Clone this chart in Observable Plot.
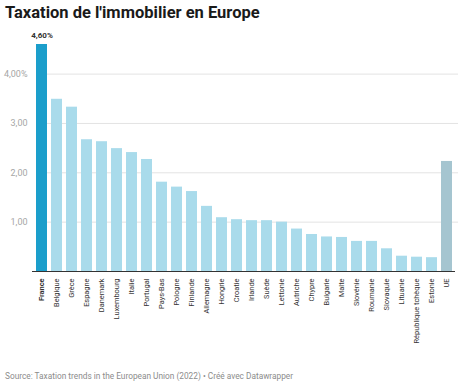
<!DOCTYPE html>
<html lang="fr">
<head>
<meta charset="utf-8">
<script src="https://cdn.jsdelivr.net/npm/d3@7"></script>
<script src="https://cdn.jsdelivr.net/npm/@observablehq/plot@0.6"></script>
<style>
  html, body { margin: 0; padding: 0; background: #fff; }
  #wrap { position: relative; width: 460px; height: 385px; font-family: Roboto, sans-serif; overflow: hidden; }
  #title { position: absolute; left: 5px; top: 3px; margin: 0; font-size: 16.5px; font-weight: 700; color: #1a1a1a; line-height: 20px; white-space: nowrap; }
  #chart { position: absolute; left: 0; top: 28px; }
  #source { position: absolute; left: 5px; top: 370px; font-size: 8.3px; color: #8c8c8c; line-height: 12px; white-space: nowrap; }
</style>
</head>
<body>
<div id="wrap">
  <h1 id="title">Taxation de l'immobilier en Europe</h1>
  <div id="chart"></div>
  <div id="source">Source: Taxation trends in the European Union (2022) • Créé avec Datawrapper</div>
</div>
<script>
// Recettes des impôts sur l'immobilier, en % du PIB
const pays = [
  "France", "Belgique", "Grèce", "Espagne", "Danemark", "Luxembourg", "Italie",
  "Portugal", "Pays-Bas", "Pologne", "Finlande", "Allemagne", "Hongrie", "Croatie",
  "Irlande", "Suède", "Lettonie", "Autriche", "Chypre", "Bulgarie", "Malte",
  "Slovénie", "Roumanie", "Slovaquie", "Lituanie", "République tchèque", "Estonie", "UE"
];
const valeurs = [
  4.60, 3.49, 3.33, 2.67, 2.63, 2.49, 2.41,
  2.27, 1.81, 1.71, 1.62, 1.32, 1.09, 1.05,
  1.03, 1.03, 1.00, 0.86, 0.75, 0.70, 0.69,
  0.61, 0.61, 0.46, 0.31, 0.29, 0.28, 2.23
];
const graduations = [1, 2, 3, 4];

const data = pays.map((p, i) => ({ pays: p, valeur: valeurs[i] }));
const virgule = (v, d) => v.toFixed(d).replace(".", ",");

const couleur = d => d.pays === "France" ? "#1b9ecb" : d.pays === "UE" ? "#a5c5d0" : "#a9dbeb";

const chart = Plot.plot({
  width: 460,
  height: 318,
  marginLeft: 30,
  marginRight: 2,
  marginTop: 16,
  marginBottom: 75,
  style: { fontFamily: "Roboto, sans-serif", background: "#fff" },
  x: { domain: pays, padding: 0.3, axis: null },
  y: { domain: [0, 4.6], axis: null },
  marks: [
    Plot.gridY(graduations, { stroke: "#e3e3e3", strokeOpacity: 1, insetLeft: 16 }),
    Plot.axisY(graduations, {
      label: null,
      tickSize: 0,
      tickPadding: 3,
      fontSize: 9,
      fill: "#a6a6a6",
      tickFormat: v => v === 4 ? virgule(v, 2) + "%" : virgule(v, 2)
    }),
    Plot.barY(data, { x: "pays", y: "valeur", fill: couleur }),
    Plot.ruleY([0], { stroke: "#333", strokeWidth: 1, insetLeft: 2, insetRight: 3 }),
    Plot.text(data.filter(d => d.pays === "France"), {
      x: "pays", y: "valeur",
      text: d => virgule(d.valeur, 2) + "%",
      dy: -9, fontSize: 8, fontWeight: "bold", fill: "#333"
    }),
    Plot.text(data, {
      x: "pays", y: () => 0,
      text: "pays",
      rotate: -90, textAnchor: "end", dy: 7,
      fontSize: 7.4,
      fill: "#333"
    })
  ]
});

// France en gras sous l'axe
d3.select(chart).selectAll("text").each(function () {
  if (this.textContent === "France") this.setAttribute("font-weight", "bold");
});

document.getElementById("chart").appendChild(chart);
</script>
</body>
</html>
